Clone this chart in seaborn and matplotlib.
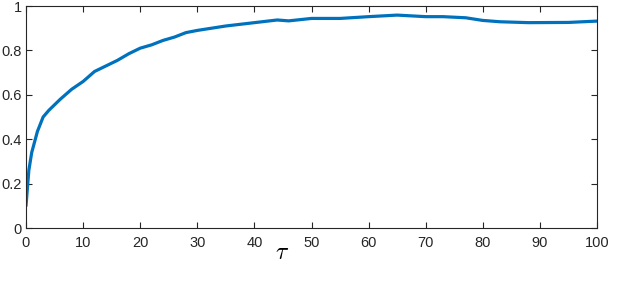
import matplotlib
matplotlib.use('Agg')
import matplotlib.pyplot as plt
import seaborn as sns
import pandas as pd

# values
tau = [0, 0.5, 1, 2, 3, 4, 5, 6, 8, 10, 12, 14, 16, 18, 20, 22, 24, 26, 28, 30,
       35, 40, 44, 46, 50, 55, 60, 65, 70, 73, 77, 80, 83, 88, 95, 100]
score = [0.10, 0.26, 0.34, 0.435, 0.50, 0.53, 0.555, 0.58, 0.625, 0.66, 0.705,
         0.73, 0.755, 0.785, 0.81, 0.825, 0.845, 0.86, 0.88, 0.89, 0.91, 0.925,
         0.937, 0.933, 0.944, 0.944, 0.952, 0.959, 0.952, 0.952, 0.947, 0.935,
         0.929, 0.925, 0.926, 0.932]
xticks = list(range(0, 101, 10))
yticks = [0, 0.2, 0.4, 0.6, 0.8, 1]
ytick_labels = ['0', '0.2', '0.4', '0.6', '0.8', '1']

df = pd.DataFrame({'tau': tau, 'score': score})

sns.set_style('white')
plt.rcParams['font.family'] = ['Liberation Sans', 'DejaVu Sans']
plt.rcParams['mathtext.fontset'] = 'cm'

fig = plt.figure(figsize=(6.4, 2.92), dpi=100)
ax = fig.add_axes([26 / 640, 64 / 292, 571 / 640, 222 / 292])

sns.lineplot(data=df, x='tau', y='score', ax=ax, color='#0072BD', linewidth=2.3)

ax.set_xlim(0, 100)
ax.set_ylim(0, 1)
ax.set_xticks(xticks)
ax.set_yticks(yticks)
ax.set_yticklabels(ytick_labels)
ax.set_xlabel('')
ax.set_ylabel('')

for s in ax.spines.values():
    s.set_color('#262626')
    s.set_linewidth(0.8)
ax.tick_params(direction='in', length=4, width=0.8, colors='#262626',
               labelsize=10.5, top=True, right=True, bottom=True, left=True,
               labelcolor='#262626')
ax.tick_params(axis='x', pad=6)
ax.tick_params(axis='y', pad=3)

fig.text(282 / 640, 1 - 253 / 292, r'$\tau$', fontsize=17, ha='center', va='center',
         color='black')

fig.savefig('out.png', dpi=100, facecolor='white')
